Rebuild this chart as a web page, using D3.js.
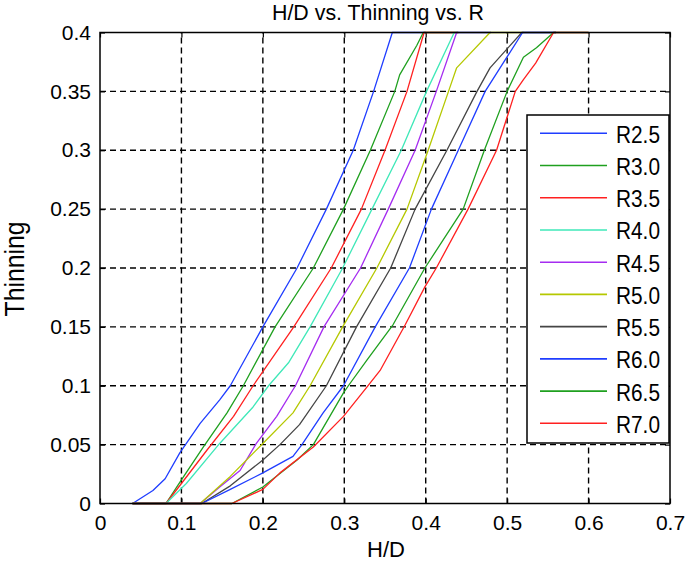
<!DOCTYPE html>
<html>
<head>
<meta charset="utf-8">
<script src="https://cdn.jsdelivr.net/npm/d3@7"></script>
<style>
  html, body { margin: 0; padding: 0; background: #fff; }
  svg { display: block; }
  text { font-family: "Liberation Sans", Arial, Helvetica, sans-serif; fill: #000; }
</style>
</head>
<body>
<svg id="chart" width="685" height="564"></svg>
<script>
// ---------- data ----------
const seriesNames = ["R2.5", "R3.0", "R3.5", "R4.0", "R4.5", "R5.0", "R5.5", "R6.0", "R6.5", "R7.0"];

const hd_R25 = [0.04, 0.065, 0.08, 0.098, 0.123, 0.147, 0.160, 0.200, 0.242, 0.278, 0.311, 0.336, 0.359, 0.40];
const th_R25 = [0, 0.011, 0.021, 0.043, 0.068, 0.088, 0.10, 0.15, 0.20, 0.25, 0.30, 0.35, 0.40, 0.40];

const hd_R30 = [0.04, 0.081, 0.100, 0.127, 0.156, 0.176, 0.215, 0.262, 0.299, 0.332, 0.362, 0.368, 0.389, 0.397, 0.44];
const th_R30 = [0, 0, 0.020, 0.048, 0.077, 0.10, 0.15, 0.20, 0.25, 0.30, 0.35, 0.364, 0.389, 0.40, 0.40];

const hd_R35 = [0.04, 0.081, 0.100, 0.131, 0.164, 0.188, 0.238, 0.284, 0.321, 0.350, 0.377, 0.398, 0.44];
const th_R35 = [0, 0, 0.017, 0.045, 0.074, 0.10, 0.15, 0.20, 0.25, 0.30, 0.35, 0.40, 0.40];

const hd_R40 = [0.04, 0.081, 0.106, 0.147, 0.188, 0.207, 0.232, 0.258, 0.298, 0.334, 0.370, 0.401, 0.435, 0.48];
const th_R40 = [0, 0, 0.017, 0.051, 0.082, 0.10, 0.12, 0.15, 0.20, 0.25, 0.30, 0.35, 0.40, 0.40];

const hd_R45 = [0.04, 0.123, 0.147, 0.172, 0.192, 0.217, 0.240, 0.275, 0.320, 0.354, 0.387, 0.413, 0.438, 0.48];
const th_R45 = [0, 0, 0.014, 0.028, 0.051, 0.074, 0.10, 0.15, 0.20, 0.25, 0.30, 0.35, 0.40, 0.40];

const hd_R50 = [0.04, 0.123, 0.160, 0.200, 0.237, 0.258, 0.298, 0.340, 0.377, 0.403, 0.428, 0.438, 0.479, 0.52];
const th_R50 = [0, 0, 0.023, 0.051, 0.077, 0.10, 0.15, 0.20, 0.25, 0.30, 0.35, 0.37, 0.40, 0.40];

const hd_R55 = [0.04, 0.125, 0.160, 0.200, 0.221, 0.245, 0.278, 0.315, 0.357, 0.387, 0.426, 0.463, 0.479, 0.518, 0.56];
const th_R55 = [0, 0, 0.015, 0.037, 0.050, 0.067, 0.10, 0.15, 0.20, 0.25, 0.30, 0.35, 0.37, 0.40, 0.40];

const hd_R60 = [0.04, 0.125, 0.160, 0.200, 0.237, 0.248, 0.274, 0.299, 0.338, 0.380, 0.407, 0.440, 0.473, 0.519, 0.56];
const th_R60 = [0, 0, 0.012, 0.026, 0.040, 0.050, 0.077, 0.10, 0.15, 0.20, 0.25, 0.30, 0.35, 0.40, 0.40];

const hd_R65 = [0.04, 0.162, 0.200, 0.242, 0.262, 0.299, 0.305, 0.328, 0.360, 0.399, 0.446, 0.472, 0.500, 0.520, 0.536, 0.557, 0.60];
const th_R65 = [0, 0, 0.014, 0.037, 0.050, 0.094, 0.10, 0.122, 0.152, 0.20, 0.25, 0.30, 0.35, 0.379, 0.387, 0.40, 0.40];

const hd_R70 = [0.04, 0.162, 0.200, 0.221, 0.262, 0.299, 0.328, 0.344, 0.375, 0.399, 0.413, 0.452, 0.487, 0.510, 0.520, 0.535, 0.557, 0.60];
const th_R70 = [0, 0, 0.012, 0.026, 0.048, 0.074, 0.099, 0.113, 0.152, 0.184, 0.20, 0.25, 0.30, 0.35, 0.36, 0.374, 0.40, 0.40];

const xTickValues = [0, 0.1, 0.2, 0.3, 0.4, 0.5, 0.6, 0.7];
const yTickValues = [0, 0.05, 0.1, 0.15, 0.2, 0.25, 0.3, 0.35, 0.4];
const xTickLabels = ["0", "0.1", "0.2", "0.3", "0.4", "0.5", "0.6", "0.7"];
const yTickLabels = ["0", "0.05", "0.1", "0.15", "0.2", "0.25", "0.3", "0.35", "0.4"];

const seriesColors = ["#1f3dff", "#1fa01f", "#ff2020", "#3fe8b8", "#a52cf0", "#b5c800", "#454545", "#1f3dff", "#1fa01f", "#ff2020"];

const titleText = "H/D vs. Thinning vs. R";
const xLabelText = "H/D";
const yLabelText = "Thinning";

// ---------- build ----------
const xs = [hd_R25, hd_R30, hd_R35, hd_R40, hd_R45, hd_R50, hd_R55, hd_R60, hd_R65, hd_R70];
const ys = [th_R25, th_R30, th_R35, th_R40, th_R45, th_R50, th_R55, th_R60, th_R65, th_R70];
const series = seriesNames.map((name, i) => ({
  name, color: seriesColors[i],
  points: xs[i].map((x, j) => ({ x, y: ys[i][j] }))
}));

const L = 100, R = 670, T = 32.5, B = 503.5;
const svg = d3.select("#chart");
const x = d3.scaleLinear().domain([0, 0.7]).range([L, R]);
const y = d3.scaleLinear().domain([0, 0.4]).range([B, T]);

// plot background
svg.append("rect").attr("x", L).attr("y", T).attr("width", R - L).attr("height", B - T).attr("fill", "#fff");

// grid
const grid = svg.append("g").attr("stroke", "#000").attr("stroke-width", 1.4).attr("stroke-dasharray", "6,4").attr("fill", "none");
xTickValues.slice(1, -1).forEach(v => {
  grid.append("line").attr("x1", x(v)).attr("x2", x(v)).attr("y1", B).attr("y2", T);
});
yTickValues.slice(1, -1).forEach(v => {
  grid.append("line").attr("x1", L).attr("x2", R).attr("y1", y(v)).attr("y2", y(v));
});

// axes via d3 axes (inward ticks)
const xAxisB = d3.axisBottom(x).tickValues(xTickValues).tickFormat((d, i) => xTickLabels[i]).tickSizeInner(-5).tickSizeOuter(0).tickPadding(10);
const xAxisT = d3.axisTop(x).tickValues(xTickValues).tickFormat("").tickSizeInner(-5).tickSizeOuter(0);
const yAxisL = d3.axisLeft(y).tickValues(yTickValues).tickFormat((d, i) => yTickLabels[i]).tickSizeInner(-5).tickSizeOuter(0).tickPadding(10);
const yAxisR = d3.axisRight(y).tickValues(yTickValues).tickFormat("").tickSizeInner(-5).tickSizeOuter(0);

function styleAxis(g) {
  g.select(".domain").remove();
  g.selectAll(".tick line").attr("stroke", "#000").attr("stroke-width", 1.2);
  g.selectAll(".tick text").attr("font-size", 21).attr("font-family", "'Liberation Sans', Arial, sans-serif").attr("fill", "#000");
}
svg.append("g").attr("transform", `translate(0,${B})`).call(xAxisB).call(styleAxis)
  .selectAll(".tick text").attr("dy", "0.71em").attr("y", 12);
svg.append("g").attr("transform", `translate(0,${T})`).call(xAxisT).call(styleAxis);
svg.append("g").attr("transform", `translate(${L},0)`).call(yAxisL).call(styleAxis)
  .selectAll(".tick text").attr("x", -9);
svg.append("g").attr("transform", `translate(${R},0)`).call(yAxisR).call(styleAxis);

// series lines
const line = d3.line().x(d => x(d.x)).y(d => y(d.y));
svg.append("g").selectAll("path").data(series).join("path")
  .attr("d", d => line(d.points))
  .attr("fill", "none")
  .attr("stroke", d => d.color)
  .attr("stroke-width", 1.3)
  .attr("stroke-linejoin", "round");

// box
svg.append("rect").attr("x", L).attr("y", T).attr("width", R - L).attr("height", B - T)
  .attr("fill", "none").attr("stroke", "#000").attr("stroke-width", 1.5);

// legend
const lgX = 527, lgY = 115, lgW = 142, lgH = 328;
const lg = svg.append("g");
lg.append("rect").attr("x", lgX).attr("y", lgY).attr("width", lgW).attr("height", lgH)
  .attr("fill", "#fff").attr("stroke", "#000").attr("stroke-width", 1.5);
const lgRow = d3.scalePoint().domain(seriesNames).range([133.3, 423.3]);
series.forEach(s => {
  const yy = lgRow(s.name);
  lg.append("line").attr("x1", 540).attr("x2", 607).attr("y1", yy).attr("y2", yy)
    .attr("stroke", s.color).attr("stroke-width", 1.6);
  lg.append("text").attr("x", 616).attr("y", yy + 9.5).attr("font-size", 23)
    .attr("textLength", 44).attr("lengthAdjust", "spacingAndGlyphs").text(s.name);
});

// title & labels
svg.append("text").attr("x", 378).attr("y", 20).attr("text-anchor", "middle").attr("font-size", 22)
  .attr("textLength", 212).attr("lengthAdjust", "spacingAndGlyphs").text(titleText);
svg.append("text").attr("x", 386).attr("y", 557).attr("text-anchor", "middle").attr("font-size", 22)
  .text(xLabelText);
svg.append("text").attr("transform", "translate(23.5,269) rotate(-90)").attr("text-anchor", "middle")
  .attr("font-size", 27).attr("textLength", 95).attr("lengthAdjust", "spacingAndGlyphs").text(yLabelText);
</script>
</body>
</html>
